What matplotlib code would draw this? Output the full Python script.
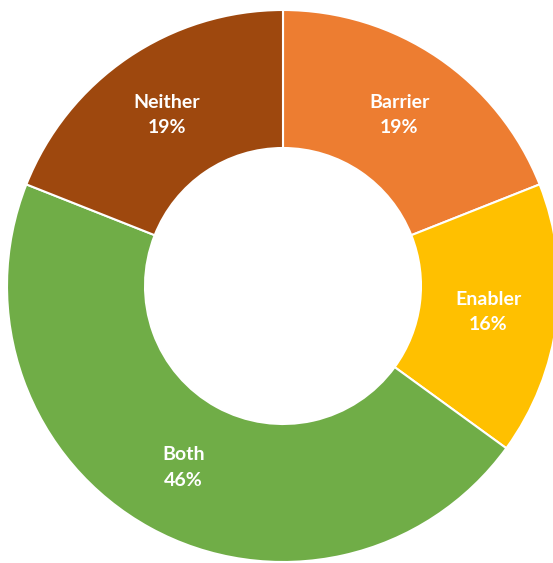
import matplotlib.pyplot as plt

categories = ['Barrier', 'Enabler', 'Both', 'Neither']
shares = [19, 16, 46, 19]
colors = ['#ED7D31', '#FFC000', '#70AD47', '#9E480E']

W, H = 553, 563
fig = plt.figure(figsize=(W / 100, H / 100), dpi=100)
ax = fig.add_axes([0, 0, 1, 1])

cx, cy, R = 283, H - 286, 276

wedges, texts = ax.pie(
    shares, colors=colors, startangle=90, counterclock=False,
    center=(cx, cy), radius=R, frame=True,
    labels=[f'{c}\n{v}%' for c, v in zip(categories, shares)],
    labeldistance=0.75,
    wedgeprops=dict(width=R * 0.5, edgecolor='white', linewidth=1.5),
    textprops=dict(color='white', fontsize=14, fontweight='bold',
                   family=['Lato', 'DejaVu Sans'], linespacing=1.6),
)
for t in texts:
    t.set_horizontalalignment('center')
    t.set_verticalalignment('center')

ax.set_xlim(0, W)
ax.set_ylim(0, H)
ax.set_aspect('equal')
ax.axis('off')

fig.savefig('out.png', dpi=100)
